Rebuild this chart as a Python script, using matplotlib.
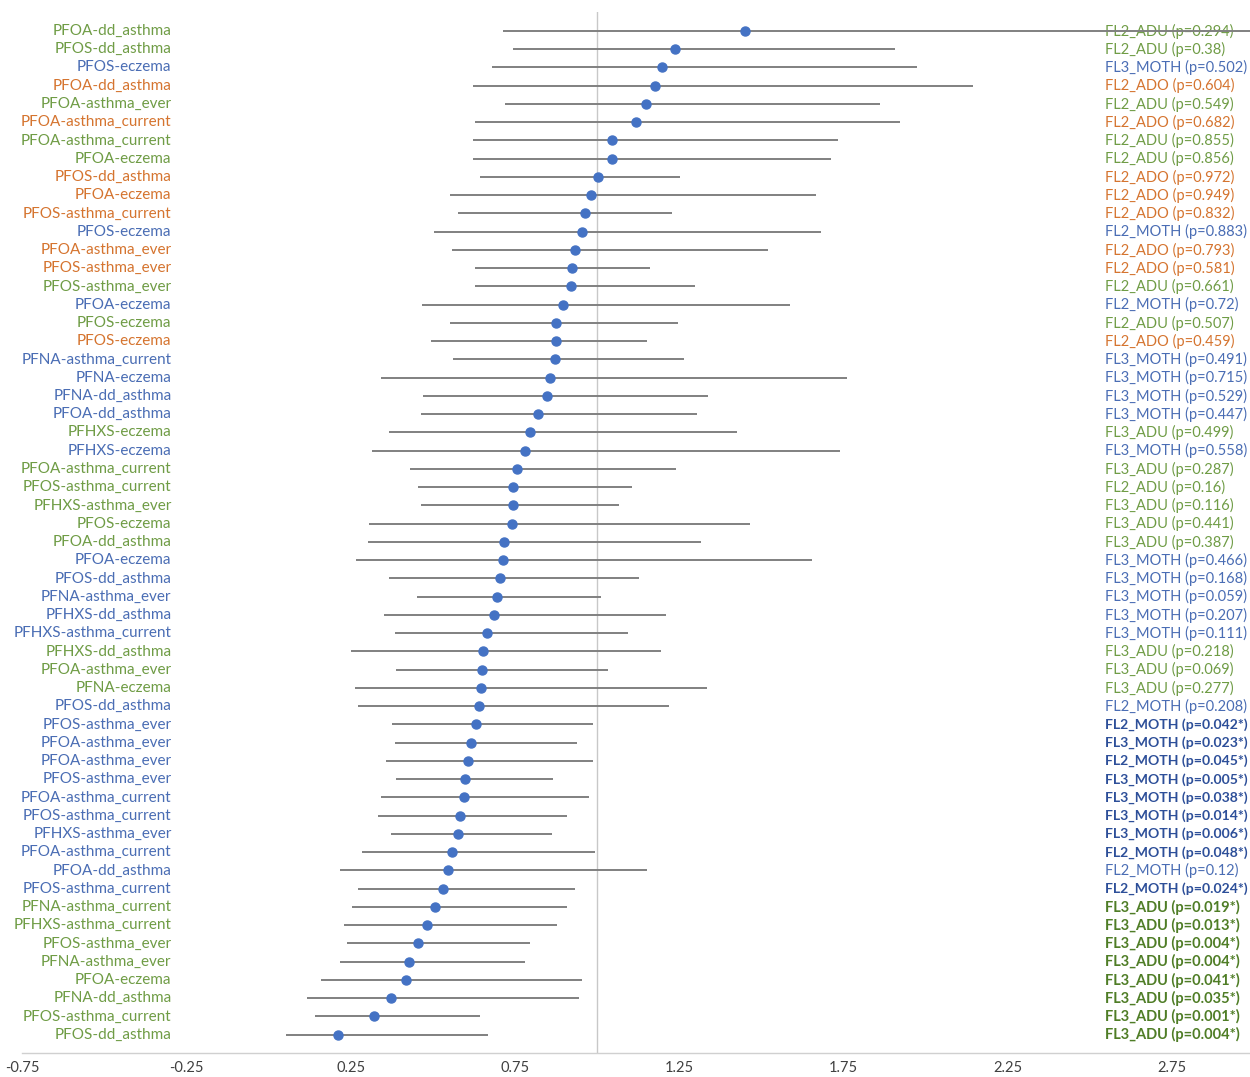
import numpy as np
import matplotlib
matplotlib.use("Agg")
import matplotlib.pyplot as plt

plt.rcParams['font.family'] = ['Lato', 'DejaVu Sans']

# Exposure-outcome pairs, top to bottom
outcomes = [
    "PFOA-dd_asthma", "PFOS-dd_asthma", "PFOS-eczema", "PFOA-dd_asthma",
    "PFOA-asthma_ever", "PFOA-asthma_current", "PFOA-asthma_current", "PFOA-eczema",
    "PFOS-dd_asthma", "PFOA-eczema", "PFOS-asthma_current", "PFOS-eczema",
    "PFOA-asthma_ever", "PFOS-asthma_ever", "PFOS-asthma_ever", "PFOA-eczema",
    "PFOS-eczema", "PFOS-eczema", "PFNA-asthma_current", "PFNA-eczema",
    "PFNA-dd_asthma", "PFOA-dd_asthma", "PFHXS-eczema", "PFHXS-eczema",
    "PFOA-asthma_current", "PFOS-asthma_current", "PFHXS-asthma_ever", "PFOS-eczema",
    "PFOA-dd_asthma", "PFOA-eczema", "PFOS-dd_asthma", "PFNA-asthma_ever",
    "PFHXS-dd_asthma", "PFHXS-asthma_current", "PFHXS-dd_asthma", "PFOA-asthma_ever",
    "PFNA-eczema", "PFOS-dd_asthma", "PFOS-asthma_ever", "PFOA-asthma_ever",
    "PFOA-asthma_ever", "PFOS-asthma_ever", "PFOA-asthma_current", "PFOS-asthma_current",
    "PFHXS-asthma_ever", "PFOA-asthma_current", "PFOA-dd_asthma", "PFOS-asthma_current",
    "PFNA-asthma_current", "PFHXS-asthma_current", "PFOS-asthma_ever", "PFNA-asthma_ever",
    "PFOA-eczema", "PFNA-dd_asthma", "PFOS-asthma_current", "PFOS-dd_asthma",
]

cohorts = [
    "FL2_ADU", "FL2_ADU", "FL3_MOTH", "FL2_ADO", "FL2_ADU", "FL2_ADO", "FL2_ADU", "FL2_ADU",
    "FL2_ADO", "FL2_ADO", "FL2_ADO", "FL2_MOTH", "FL2_ADO", "FL2_ADO", "FL2_ADU", "FL2_MOTH",
    "FL2_ADU", "FL2_ADO", "FL3_MOTH", "FL3_MOTH", "FL3_MOTH", "FL3_MOTH", "FL3_ADU", "FL3_MOTH",
    "FL3_ADU", "FL2_ADU", "FL3_ADU", "FL3_ADU", "FL3_ADU", "FL3_MOTH", "FL3_MOTH", "FL3_MOTH",
    "FL3_MOTH", "FL3_MOTH", "FL3_ADU", "FL3_ADU", "FL3_ADU", "FL2_MOTH", "FL2_MOTH", "FL3_MOTH",
    "FL2_MOTH", "FL3_MOTH", "FL3_MOTH", "FL3_MOTH", "FL3_MOTH", "FL2_MOTH", "FL2_MOTH", "FL2_MOTH",
    "FL3_ADU", "FL3_ADU", "FL3_ADU", "FL3_ADU", "FL3_ADU", "FL3_ADU", "FL3_ADU", "FL3_ADU",
]

pvals = [
    "0.294", "0.38", "0.502", "0.604", "0.549", "0.682", "0.855", "0.856",
    "0.972", "0.949", "0.832", "0.883", "0.793", "0.581", "0.661", "0.72",
    "0.507", "0.459", "0.491", "0.715", "0.529", "0.447", "0.499", "0.558",
    "0.287", "0.16", "0.116", "0.441", "0.387", "0.466", "0.168", "0.059",
    "0.207", "0.111", "0.218", "0.069", "0.277", "0.208", "0.042", "0.023",
    "0.045", "0.005", "0.038", "0.014", "0.006", "0.048", "0.12", "0.024",
    "0.019", "0.013", "0.004", "0.004", "0.041", "0.035", "0.001", "0.004",
]

# point estimate and CI bounds
estimate = [
    1.449, 1.237, 1.197, 1.175, 1.148, 1.118, 1.047, 1.044,
    1.002, 0.981, 0.962, 0.953, 0.932, 0.923, 0.920, 0.895,
    0.874, 0.874, 0.871, 0.856, 0.847, 0.819, 0.795, 0.780,
    0.755, 0.743, 0.743, 0.740, 0.716, 0.713, 0.704, 0.697,
    0.685, 0.664, 0.652, 0.649, 0.646, 0.640, 0.631, 0.615,
    0.606, 0.597, 0.594, 0.582, 0.576, 0.558, 0.546, 0.530,
    0.506, 0.482, 0.454, 0.427, 0.418, 0.372, 0.321, 0.211,
]
lower = [
    0.713, 0.743, 0.681, 0.621, 0.719, 0.630, 0.621, 0.624,
    0.645, 0.554, 0.576, 0.503, 0.558, 0.628, 0.628, 0.466,
    0.554, 0.494, 0.561, 0.342, 0.469, 0.463, 0.366, 0.314,
    0.430, 0.454, 0.463, 0.305, 0.302, 0.265, 0.368, 0.451,
    0.351, 0.384, 0.250, 0.387, 0.262, 0.274, 0.375, 0.384,
    0.357, 0.387, 0.342, 0.332, 0.372, 0.284, 0.217, 0.271,
    0.253, 0.229, 0.240, 0.217, 0.159, 0.116, 0.141, 0.053,
]
upper = [
    3.100, 1.906, 1.973, 2.143, 1.860, 1.921, 1.732, 1.711,
    1.251, 1.665, 1.227, 1.683, 1.519, 1.160, 1.297, 1.586,
    1.245, 1.151, 1.266, 1.760, 1.339, 1.303, 1.425, 1.739,
    1.239, 1.105, 1.066, 1.464, 1.315, 1.653, 1.129, 1.011,
    1.209, 1.093, 1.196, 1.032, 1.336, 1.218, 0.987, 0.939,
    0.987, 0.865, 0.975, 0.908, 0.862, 0.993, 1.151, 0.932,
    0.908, 0.878, 0.796, 0.780, 0.953, 0.944, 0.645, 0.667,
]

xticks = [-0.75, -0.25, 0.25, 0.75, 1.25, 1.75, 2.25, 2.75]

colors = {"ADU": "#6f9c45", "ADO": "#d5742f", "MOTH": "#4a6db4"}
bold_colors = {"ADU": "#4f7d26", "ADO": "#b8561a", "MOTH": "#2d4f99"}

fig = plt.figure(figsize=(12.5, 10.77), dpi=100)
ax = fig.add_axes([22 / 1250, 24 / 1077, 1228 / 1250, 1041 / 1077])

n = len(outcomes)
rows = np.arange(1, n + 1)

ax.axvline(1.0, color="#c8c8c8", lw=1.0, zorder=1)
ax.hlines(rows, lower, upper, color="#808080", lw=1.4, zorder=2)
ax.plot(estimate, rows, 'o', color="#4472c4", markersize=6.5, zorder=3)

for i in range(n):
    group = cohorts[i].split("_")[1]
    sig = float(pvals[i]) < 0.05
    size = 10.5
    if sig:
        right = f"{cohorts[i]} (p={pvals[i]}*)"
        col = bold_colors[group]
        if group == "MOTH":
            size = 10.1  # squeeze so the long bold labels stay inside the figure
    else:
        right = f"{cohorts[i]} (p={pvals[i]})"
        col = colors[group]
    ax.text(-0.295, rows[i], outcomes[i], ha="right", va="center",
            fontsize=11, color=colors[group])
    ax.text(2.546, rows[i], right, ha="left", va="center", fontsize=size,
            color=col, fontweight="bold" if sig else "normal", zorder=1)

ax.set_xlim(-0.75, -0.75 + 1228 / 328.6)
ax.set_ylim(57, -0.04)
ax.set_xticks(xticks)
ax.set_xticklabels([f"{t:.2f}" for t in xticks])
ax.set_yticks([])
ax.tick_params(axis="x", length=0, pad=6, labelsize=10.5, labelcolor="#404040")
for s in ["top", "right", "left"]:
    ax.spines[s].set_visible(False)
ax.spines["bottom"].set_color("#d0d0d0")
ax.spines["bottom"].set_linewidth(1.0)

fig.savefig("out.png", dpi=100)
